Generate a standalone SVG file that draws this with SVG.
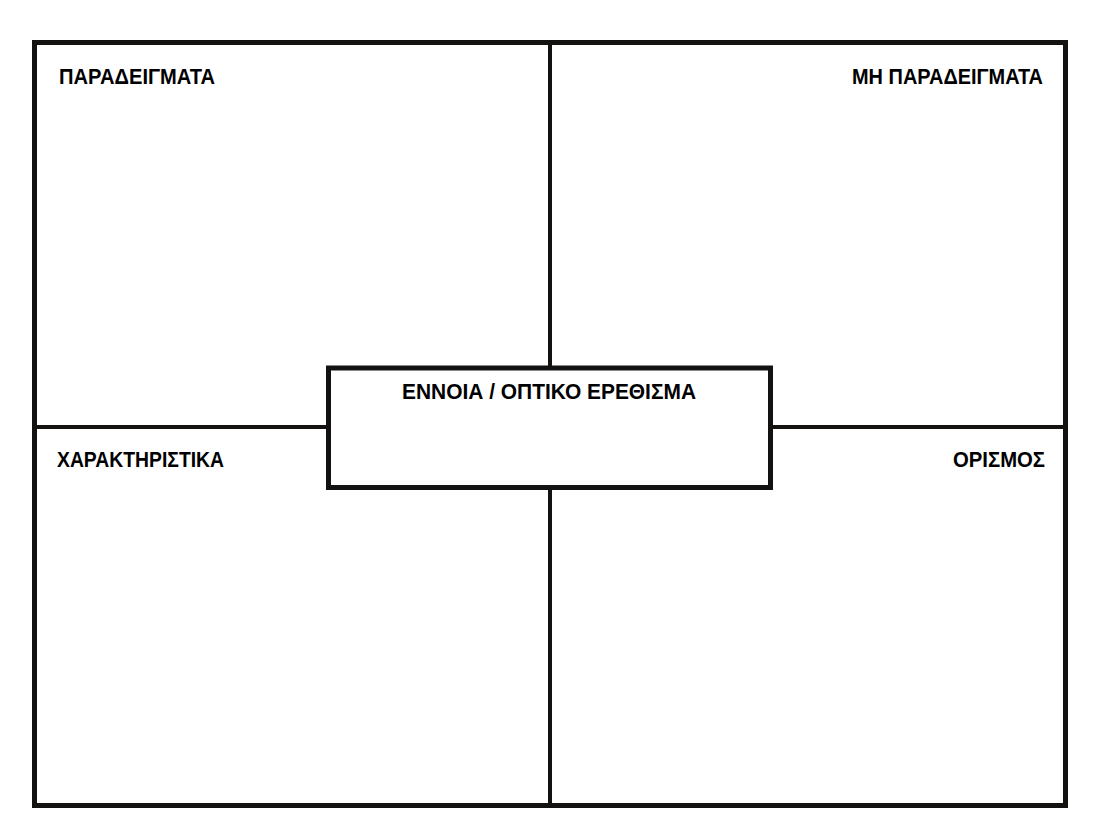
<svg xmlns="http://www.w3.org/2000/svg" width="1101" height="836" viewBox="0 0 1101 836">
<style>
.frame{fill:none;stroke:#141210;stroke-width:5}
.line{stroke:#141210;stroke-width:4}
.lbl{font-family:"Liberation Sans","DejaVu Sans",sans-serif;font-size:22.5px;font-weight:bold;fill:#000}
</style>
<rect width="1101" height="836" fill="#fff"/>
<g id="connectors">
<line class="line" x1="550" y1="42" x2="550" y2="368"/>
<line class="line" x1="550" y1="488" x2="550" y2="806"/>
<line class="line" x1="35" y1="427" x2="328" y2="427"/>
<line class="line" x1="771" y1="427" x2="1066" y2="427"/>
</g>
<g id="frame"><rect class="frame" x="34.5" y="42.5" width="1031" height="763"/></g>
<g id="examples"><text class="lbl" x="59" y="84" textLength="156" lengthAdjust="spacingAndGlyphs">ΠΑΡΑΔΕΙΓΜΑΤΑ</text></g>
<g id="non-examples"><text class="lbl" x="852" y="84" textLength="191" lengthAdjust="spacingAndGlyphs">ΜΗ ΠΑΡΑΔΕΙΓΜΑΤΑ</text></g>
<g id="characteristics"><text class="lbl" x="57" y="467" textLength="167" lengthAdjust="spacingAndGlyphs">ΧΑΡΑΚΤΗΡΙΣΤΙΚΑ</text></g>
<g id="definition"><text class="lbl" x="953" y="467" textLength="92" lengthAdjust="spacingAndGlyphs">ΟΡΙΣΜΟΣ</text></g>
<g id="concept">
<rect x="328.5" y="368" width="442" height="119.5" fill="#fff" stroke="#141210" stroke-width="5"/>
<text class="lbl" x="402" y="399" textLength="294" lengthAdjust="spacingAndGlyphs">ΕΝΝΟΙΑ / ΟΠΤΙΚΟ ΕΡΕΘΙΣΜΑ</text>
</g>
</svg>
